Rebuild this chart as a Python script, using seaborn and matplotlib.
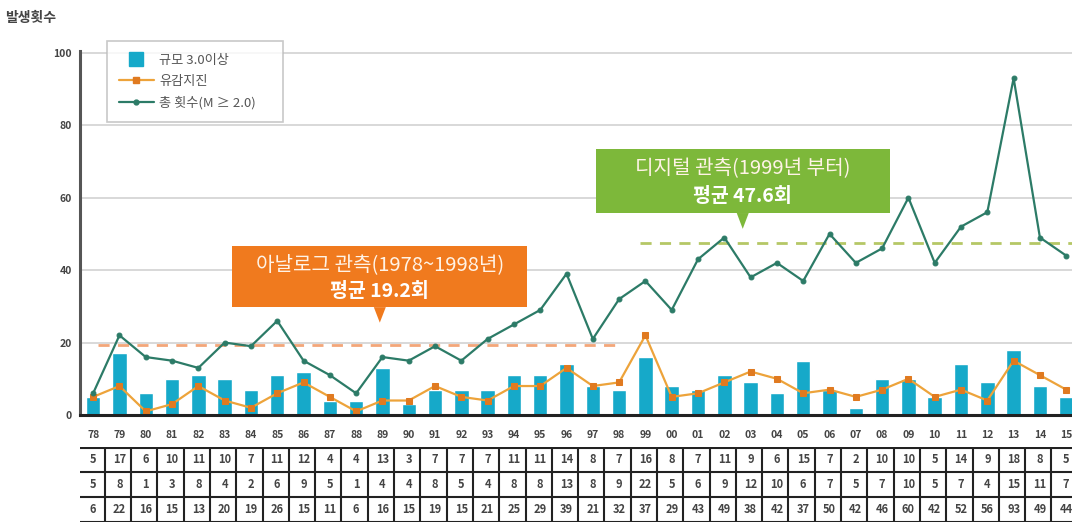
import numpy as np
import pandas as pd
import matplotlib.pyplot as plt
import seaborn as sns
from matplotlib.lines import Line2D
from matplotlib.patches import Rectangle, Polygon

# data
years = ['78', '79', '80', '81', '82', '83', '84', '85', '86', '87', '88', '89', '90',
         '91', '92', '93', '94', '95', '96', '97', '98', '99', '00', '01', '02', '03',
         '04', '05', '06', '07', '08', '09', '10', '11', '12', '13', '14', '15']
mag3 = [5, 17, 6, 10, 11, 10, 7, 11, 12, 4, 4, 13, 3, 7, 7, 7, 11, 11, 14, 8, 7,
        16, 8, 7, 11, 9, 6, 15, 7, 2, 10, 10, 5, 14, 9, 18, 8, 5]
felt = [5, 8, 1, 3, 8, 4, 2, 6, 9, 5, 1, 4, 4, 8, 5, 4, 8, 8, 13, 8, 9,
        22, 5, 6, 9, 12, 10, 6, 7, 5, 7, 10, 5, 7, 4, 15, 11, 7]
total = [6, 22, 16, 15, 13, 20, 19, 26, 15, 11, 6, 16, 15, 19, 15, 21, 25, 29, 39, 21, 32,
         37, 29, 43, 49, 38, 42, 37, 50, 42, 46, 60, 42, 52, 56, 93, 49, 44]
analog_mean = 19.2
digital_mean = 47.6

df = pd.DataFrame({'year': years, 'mag3': mag3, 'felt': felt, 'total': total})
df['pos'] = np.arange(len(df))

BAR = '#16a9c9'
FELT = '#eda33a'
FELT_MK = '#e07a20'
TOTAL = '#2c7b67'
ORANGE = '#f07a1e'
GREEN = '#7db83a'

sns.set_style('white')
plt.rcParams['font.family'] = ['Noto Sans CJK KR', 'DejaVu Sans']

fig = plt.figure(figsize=(10.72, 5.25), dpi=100)
ax = fig.add_axes([80 / 1072, 1 - 415 / 525, 1 - 80 / 1072, 364 / 525])
tab = fig.add_axes([80 / 1072, 1 - 522 / 525, 1 - 80 / 1072, 75 / 525])

sns.barplot(data=df, x='year', y='mag3', color=BAR, saturation=1, width=0.55,
            ax=ax, zorder=2)
sns.lineplot(data=df, x='pos', y='felt', color=FELT, lw=1.6, marker='s', markersize=4,
             markerfacecolor=FELT_MK, markeredgecolor=FELT_MK, ax=ax, zorder=4)
sns.lineplot(data=df, x='pos', y='total', color=TOTAL, lw=1.6, marker='o', markersize=3.5,
             markerfacecolor=TOTAL, markeredgecolor=TOTAL, ax=ax, zorder=5)

# period averages
split = years.index('99')
ax.hlines(analog_mean, 0.2, split - 1, colors='#f3a679', lw=2, linestyles=(0, (4, 3)), zorder=1.5)
ax.hlines(digital_mean, split - 0.2, len(years) + 1, colors='#b5c766', lw=2,
          linestyles=(0, (4, 3)), zorder=1.5)

ax.set_xlim(-0.5, 37.22)
ax.set_ylim(0, 100.5)
ax.set_yticks([0, 20, 40, 60, 80, 100])
ax.yaxis.grid(True, color='#d2d2d2', lw=1.2, zorder=0)
ax.set_axisbelow(True)
ax.set_xticks(range(len(years)))
ax.set_xticklabels(years)
ax.tick_params(axis='x', length=0, pad=11, labelsize=7.5, labelcolor='#444444')
ax.tick_params(axis='y', length=0, pad=6, labelsize=7.5, labelcolor='#444444')
for lab in ax.get_xticklabels() + ax.get_yticklabels():
    lab.set_fontweight('bold')
ax.set_xlabel('')
ax.set_ylabel('')
for s in ['top', 'right']:
    ax.spines[s].set_visible(False)
ax.spines['left'].set_color('#555555')
ax.spines['left'].set_linewidth(2.2)
ax.spines['bottom'].set_color('#222222')
ax.spines['bottom'].set_linewidth(2.2)
ax.spines['bottom'].set_zorder(6)

fig.text(5 / 1072, 1 - 18 / 525, '발생횟수', fontsize=10, fontweight='bold',
         color='#444444', va='center', ha='left')

handles = [
    Line2D([], [], ls='none', marker='s', markersize=10, markerfacecolor=BAR,
           markeredgecolor=BAR),
    Line2D([], [], color=FELT, lw=1.6, marker='s', markersize=4,
           markerfacecolor=FELT_MK, markeredgecolor=FELT_MK),
    Line2D([], [], color=TOTAL, lw=1.6, marker='o', markersize=3.5),
]
leg = ax.legend(handles, ['규모 3.0이상', '유감지진', '총 횟수(M ≥ 2.0)'],
                loc='upper left', bbox_to_anchor=(0.027, 0.5, 0.1774, 0.527),
                mode='expand', frameon=True, fancybox=False, fontsize=9.5,
                labelcolor='#555555', handlelength=2.6, borderpad=0.95,
                labelspacing=0.62, handletextpad=0.4, borderaxespad=0)
leg.get_frame().set_edgecolor('#bbbbbb')
leg.get_frame().set_linewidth(1.2)
leg.set_zorder(7)

# callout boxes
px_x = 26.3
px_y = 364 / 100.5


def callout(cx, cy, w, h, tip_y, color, line1, line2):
    wx, hy = w / px_x, h / px_y
    ax.add_patch(Rectangle((cx - wx / 2, cy - hy / 2), wx, hy, facecolor=color,
                           edgecolor='none', zorder=8))
    ax.add_patch(Polygon([(cx - 6 / px_x, cy - hy / 2), (cx + 6 / px_x, cy - hy / 2),
                          (cx, tip_y)], closed=True, facecolor=color, edgecolor='none',
                         zorder=8))
    ax.text(cx, cy + hy * 0.2, line1, color='#fff3e6', fontsize=14.5, ha='center',
            va='center', zorder=9)
    ax.text(cx, cy - hy * 0.24, line2, color='white', fontsize=14, fontweight='bold',
            ha='center', va='center', zorder=9)


callout(10.9, 38.2, 295, 61, 25.5, ORANGE, '아날로그 관측(1978~1998년)', '평균 19.2회')
callout(24.7, 64.6, 294, 64, 51.4, GREEN, '디지털 관측(1999년 부터)', '평균 47.6회')

# value table under the axis
rows = [mag3, felt, total]
tab.set_xlim(ax.get_xlim())
tab.set_ylim(3, 0)
tab.axis('off')
for r, vals in enumerate(rows):
    for i, v in enumerate(vals):
        tab.text(i, r + 0.5, str(v), ha='center', va='center', fontsize=8,
                 fontweight='bold', color='#444444')
for i in range(len(years) + 1):
    tab.vlines(i - 0.56, 0, 3, colors='#222222', lw=1.5)
tab.hlines([0.02, 1, 2, 2.98], -0.56, len(years), colors='#222222', lw=1.5)

fig.savefig('out.png', dpi=100)
